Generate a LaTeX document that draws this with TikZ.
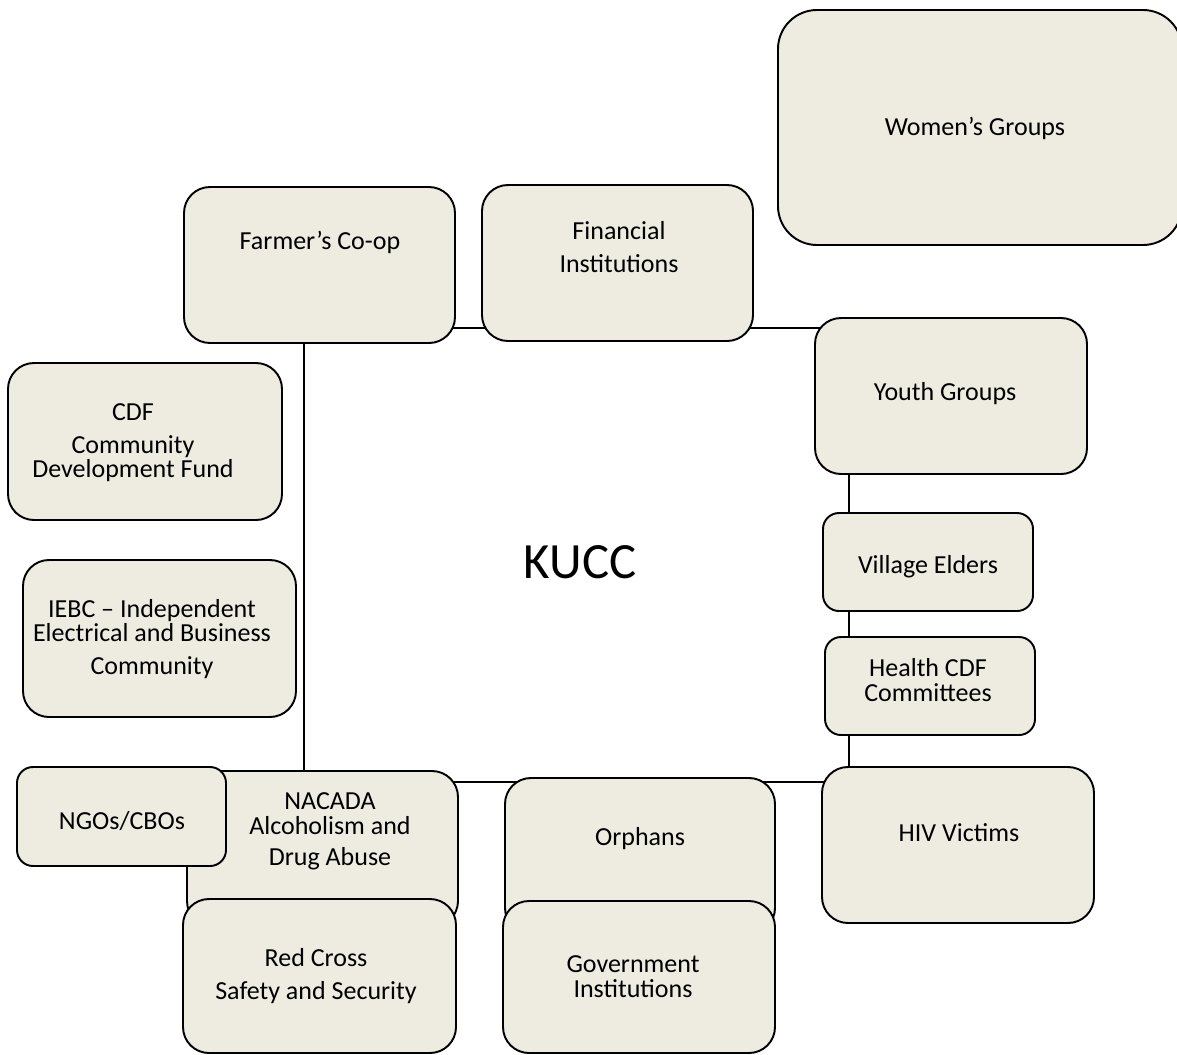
\documentclass[tikz,border=0pt]{standalone}
\usepackage{fontspec}
\setmainfont{Carlito}
\definecolor{boxfill}{HTML}{EEECE1}
\begin{document}
\begin{tikzpicture}[x=0.02cm,y=-0.02cm,
  orgbox/.style 2 args={draw=black,fill=boxfill,line width=1.1pt,inner sep=0pt,outer sep=0pt,
     minimum width=#1*0.02cm,minimum height=#2*0.02cm,rectangle},
  bigcorner/.style={rounded corners=0.52cm},
  smallcorner/.style={rounded corners=0.32cm},
  hugecorner/.style={rounded corners=0.78cm},
  lbl/.style={align=center,inner sep=0pt,font=\fontsize{14.8}{14.2}\selectfont},
  link/.style={draw=black,line width=0.9pt}]
\useasboundingbox (0,0) rectangle (1177,1055);
% frame connecting the groups
\coordinate (tl) at (304,328);
\coordinate (br) at (849,782);
\draw[link] (tl) rectangle (br);
% centre
\node[inner sep=0pt,font=\fontsize{28.9}{30}\selectfont] (kucc) at (580,562) {KUCC};
% boxes
\node[orgbox={404}{235},hugecorner] (women) at (980,127.5) {};
\node[lbl] (womenT) at (975,128) {Women’s Groups};
\node[orgbox={271}{156},bigcorner] (farmer) at (319.5,265) {};
\node[lbl] (farmerT) at (320,242) {Farmer’s Co-op};
\node[orgbox={271}{156},bigcorner] (financial) at (617.5,263) {};
\node[lbl] (financialT) at (619,247) {Financial\\[4.2pt]Institutions};
\node[orgbox={272}{156},bigcorner] (youth) at (951,396) {};
\node[lbl] (youthT) at (945,394) {Youth Groups};
\node[orgbox={210}{98},smallcorner] (village) at (928,562) {};
\node[lbl] (villageT) at (928,567) {Village Elders};
\node[orgbox={210}{98},smallcorner] (health) at (930,686) {};
\node[lbl] (healthT) at (928,680) {Health CDF\\Committees};
\node[orgbox={272}{156},bigcorner] (hiv) at (958,845) {};
\node[lbl] (hivT) at (959,833) {HIV Victims};
\node[orgbox={274}{157},bigcorner] (cdf) at (145,441.5) {};
\node[lbl] (cdfT) at (133,443) {CDF\\[4.2pt]Community\\Development Fund};
\node[orgbox={273}{157},bigcorner] (iebc) at (159.5,638.5) {};
\node[lbl] (iebcT) at (152,639) {IEBC – Independent\\Electrical and Business\\[4.5pt]Community};
\node[orgbox={271}{156},bigcorner] (nacada) at (322.5,849) {};
\node[lbl] (nacadaT) at (330,831) {NACADA\\Alcoholism and\\[3.5pt]Drug Abuse};
\node[orgbox={209}{99},smallcorner] (ngos) at (121.5,816.5) {};
\node[lbl] (ngosT) at (122,821) {NGOs/CBOs};
\node[orgbox={273}{154},bigcorner] (redcross) at (319.5,976) {};
\node[lbl] (redcrossT) at (316,976) {Red Cross\\[4.2pt]Safety and Security};
\node[orgbox={270}{156},bigcorner] (orphans) at (640,856) {};
\node[lbl] (orphansT) at (640,839) {Orphans};
\node[orgbox={272}{152},bigcorner] (gov) at (639,977) {};
\node[lbl] (govT) at (633,977) {Government\\Institutions};
\end{tikzpicture}
\end{document}
